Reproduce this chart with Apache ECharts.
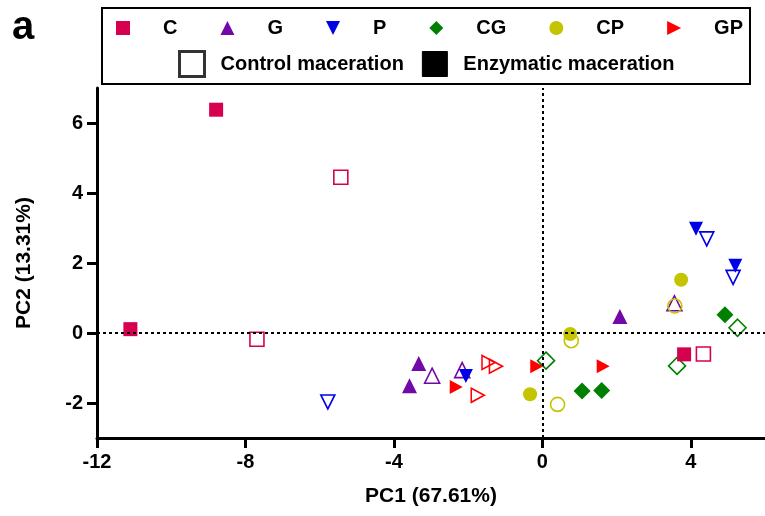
<!DOCTYPE html>
<html>
<head>
<meta charset="utf-8">
<script src="https://cdn.jsdelivr.net/npm/echarts@6/dist/echarts.min.js"></script>
<style>html,body{margin:0;padding:0;background:#fff;}#chart{width:765px;height:516px;}</style>
</head>
<body>
<div id="chart"></div>
<script>
// ---- data ----
const groups = ['C', 'G', 'P', 'CG', 'CP', 'GP'];
const treatments = ['Control maceration', 'Enzymatic maceration'];
const xTicks = [-12, -8, -4, 0, 4];
const yTicks = [-2, 0, 2, 4, 6];

const cEnzymatic  = [[-8.79, 6.38], [-11.10, 0.11], [3.82, -0.61]];
const cControl    = [[-5.43, 4.45], [-7.69, -0.18], [4.34, -0.60]];
const gEnzymatic  = [[-3.33, -0.87], [-3.58, -1.51], [2.09, 0.47]];
const gControl    = [[-2.97, -1.22], [-2.16, -1.06], [3.56, 0.85]];
const pEnzymatic  = [[-2.06, -1.23], [4.14, 2.98], [5.20, 1.92]];
const pControl    = [[-5.78, -1.97], [4.43, 2.69], [5.14, 1.59]];
const cgEnzymatic = [[1.07, -1.66], [1.60, -1.64], [4.92, 0.52]];
const cgControl   = [[0.10, -0.79], [3.63, -0.94], [5.26, 0.15]];
const cpEnzymatic = [[-0.33, -1.75], [0.75, -0.03], [3.74, 1.52]];
const cpControl   = [[0.41, -2.04], [0.78, -0.22], [3.57, 0.77]];
const gpEnzymatic = [[-2.32, -1.54], [-0.15, -0.95], [1.64, -0.95]];
const gpControl   = [[-1.74, -1.78], [-1.45, -0.84], [-1.25, -0.95]];

const enzymaticData = [cEnzymatic, gEnzymatic, pEnzymatic, cgEnzymatic, cpEnzymatic, gpEnzymatic];
const controlData   = [cControl, gControl, pControl, cgControl, cpControl, gpControl];

// ---- styles ----
const FONT = '"Liberation Sans", Arial, Helvetica, sans-serif';
const colors = ['#D60050', '#7208A8', '#0000E6', '#008000', '#C4C400', '#FF0000'];
const symbols = ['rect', 'triangle', 'path://M0,0L2,0L1,2Z', 'diamond', 'circle', 'path://M0,0L2,1L0,2Z'];
const sizes = [14, 15, [14, 14], 17, 14, [13, 14]];

const series = [];
groups.forEach((g, i) => {
  series.push({
    type: 'scatter', name: g, data: controlData[i],
    symbol: symbols[i], symbolSize: sizes[i], z: 3,
    itemStyle: { color: 'rgba(255,255,255,0)', borderColor: colors[i], borderWidth: 1.6, opacity: 1 }
  });
});
groups.forEach((g, i) => {
  series.push({
    type: 'scatter', name: g, data: enzymaticData[i],
    symbol: symbols[i], symbolSize: sizes[i], z: 4,
    itemStyle: { color: colors[i], opacity: 1 }
  });
});
series.push({ type: 'scatter', name: treatments[0], data: [], symbol: 'rect',
  itemStyle: { color: '#ffffff', borderColor: '#000000', borderWidth: 3 } });
series.push({ type: 'scatter', name: treatments[1], data: [], symbol: 'rect',
  itemStyle: { color: '#000000', borderColor: '#000000', borderWidth: 1, opacity: 1 } });
series[0].markLine = {
  silent: true, symbol: 'none', animation: false,
  label: { show: false },
  lineStyle: { color: '#000', width: 2, type: [3, 3] },
  data: [{ xAxis: 0 }, { yAxis: 0 }]
};

const chart = echarts.init(document.getElementById('chart'), null, { renderer: 'canvas' });
chart.setOption({
  animation: false,
  backgroundColor: '#fff',
  textStyle: { fontFamily: FONT },
  grid: { left: 97, right: 0, top: 88, bottom: 78, containLabel: false },
  xAxis: {
    type: 'value', min: -12, max: 6,
    name: 'PC1 (67.61%)', nameLocation: 'middle', nameGap: 48,
    nameTextStyle: { fontSize: 21, fontWeight: 'bold', color: '#000', fontFamily: FONT },
    axisLine: { onZero: false, lineStyle: { color: '#000', width: 3 } },
    axisTick: { customValues: xTicks, length: 10, lineStyle: { color: '#000', width: 3 } },
    axisLabel: { customValues: xTicks, fontSize: 20, fontWeight: 'bold', color: '#000', margin: 14, fontFamily: FONT },
    splitLine: { show: false }
  },
  yAxis: {
    type: 'value', min: -3, max: 7,
    name: 'PC2 (13.31%)', nameLocation: 'middle', nameGap: 62, nameRotate: 90,
    nameTextStyle: { fontSize: 21, fontWeight: 'bold', color: '#000', fontFamily: FONT },
    axisLine: { onZero: false, lineStyle: { color: '#000', width: 3 } },
    axisTick: { customValues: yTicks, length: 10, lineStyle: { color: '#000', width: 3 } },
    axisLabel: { customValues: yTicks, fontSize: 20, fontWeight: 'bold', color: '#000', margin: 14, fontFamily: FONT },
    splitLine: { show: false }
  },
  legend: [
    {
      left: 116, top: 18, padding: 0, itemWidth: 14, itemHeight: 14, itemGap: 43, selectedMode: false,
      textStyle: { fontSize: 20, fontWeight: 'bold', color: '#000', fontFamily: FONT, padding: [0, 0, 0, 28] },
      data: groups.map((g, i) => ({ name: g, icon: symbols[i], itemStyle: { color: colors[i], borderWidth: 0 } }))
    },
    {
      left: 178, top: 50, padding: 0, itemWidth: 25, itemHeight: 25, itemGap: 18, selectedMode: false,
      textStyle: { fontSize: 20, fontWeight: 'bold', color: '#000', fontFamily: FONT, padding: [0, 0, 0, 11] },
      data: [
        { name: treatments[0], icon: 'rect', itemStyle: { color: '#ffffff', borderColor: '#000000', borderWidth: 3 } },
        { name: treatments[1], icon: 'rect', itemStyle: { color: '#000000', borderColor: '#000000', borderWidth: 1, opacity: 1 } }
      ]
    }
  ],
  graphic: [
    { type: 'rect', shape: { x: 102, y: 8, width: 648, height: 76 }, style: { fill: 'none', stroke: '#000', lineWidth: 2 }, z: 10 },
    { type: 'text', style: { text: 'a', x: 12, y: 28, fontSize: 40, fontWeight: 'bold', fontFamily: FONT, fill: '#000', textVerticalAlign: 'middle' }, z: 10 }
  ],
  series: series
});
</script>
</body>
</html>
